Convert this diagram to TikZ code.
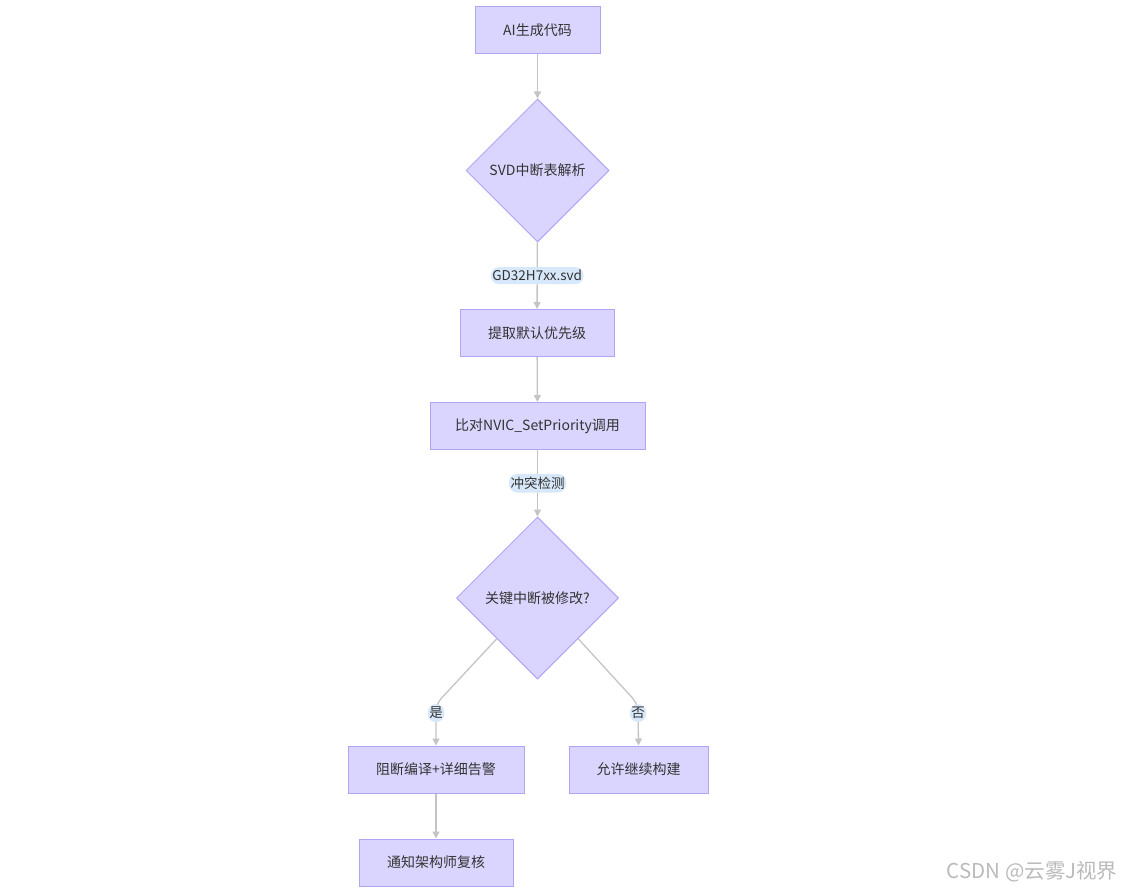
\documentclass[tikz,border=0pt]{standalone}
\usepackage{fontspec}
\setmainfont{Noto Sans CJK SC}
\usetikzlibrary{shapes.geometric,arrows.meta,calc}
\definecolor{nodefill}{HTML}{DAD5FE}
\definecolor{nodedraw}{HTML}{AFA5F7}
\definecolor{edgecol}{HTML}{C4C4C4}
\definecolor{labelbg}{HTML}{D7E8FA}
\definecolor{txt}{HTML}{333333}
\tikzset{
  procbox/.style={draw=nodedraw,fill=nodefill,line width=1pt,minimum height=47pt,inner sep=0pt,text=txt,font=\fontsize{14}{16}\selectfont},
  decision/.style={diamond,aspect=1,draw=nodedraw,fill=nodefill,line width=1pt,inner sep=0pt,text=txt,font=\fontsize{14}{16}\selectfont},
  edge/.style={draw=edgecol,line width=1.3pt,-{Triangle[length=7pt,width=7pt]},rounded corners=8pt},
  elabel/.style={fill=labelbg,text=txt,inner xsep=1.5pt,inner ysep=3pt,font=\fontsize{13.5}{15}\selectfont},
}
\begin{document}
\begin{tikzpicture}[x=1pt,y=-1pt]
\useasboundingbox (0,0) rectangle (1125,891);
\node[procbox,minimum width=125pt] (A) at (537.5,30.5) {AI生成代码};
\node[decision,minimum width=143pt,minimum height=143pt] (B) at (537.5,170.5) {SVD中断表解析};
\node[procbox,minimum width=154pt] (C) at (537,333) {提取默认优先级};
\node[procbox,minimum width=215pt] (D) at (537.5,426) {比对NVIC\_SetPriority调用};
\node[decision,minimum width=162pt,minimum height=162pt] (E) at (537.5,598) {关键中断被修改?};
\node[procbox,minimum width=176pt] (F) at (436,769.5) {阻断编译+详细告警};
\node[procbox,minimum width=139pt] (G) at (638.5,769.5) {允许继续构建};
\node[procbox,minimum width=154pt] (H) at (436,862.5) {通知架构师复核};
\coordinate (f1) at (436,704);
\coordinate (g1) at (638,704);

\draw[edge] (A) -- (B);
\draw[edge] (B) -- node[elabel] (l1) {GD32H7xx.svd} (C);
\draw[edge] (C) -- (D);
\draw[edge] (D) -- node[elabel] (l2) {冲突检测} (E);
\draw[edge] (E.south west) -- (f1) -- node[elabel,pos=0.22] (l3) {是} (F.north);
\draw[edge] (E.south east) -- (g1) -- node[elabel,pos=0.22] (l4) {否} (G.north);
\draw[edge] (F) -- (H);

\node[text=black!27,font=\fontsize{20.5}{23}\selectfont,anchor=east] (wm) at (1121,872) {CSDN @云雾J视界};
\end{tikzpicture}
\end{document}
